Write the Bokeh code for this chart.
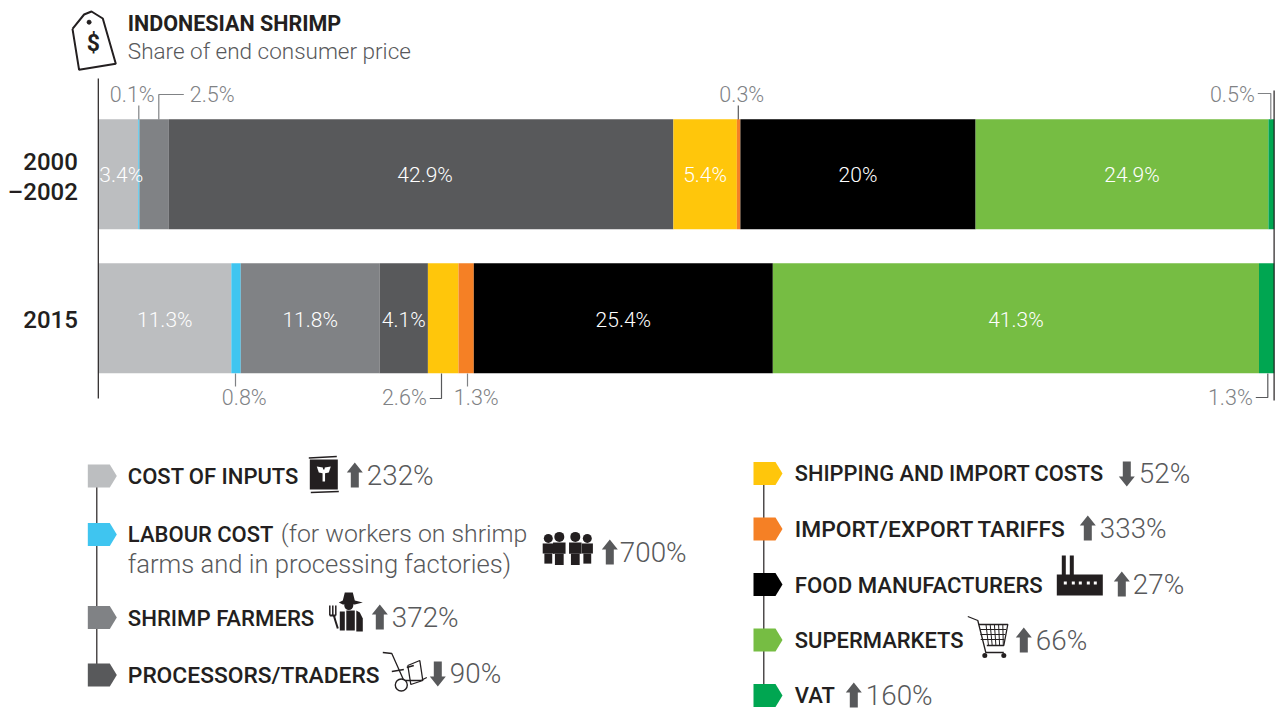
from bokeh.plotting import figure
from bokeh.models import Range1d, ColumnDataSource
from bokeh.core.properties import value
from bokeh.embed import file_html
from bokeh.resources import INLINE
import numpy as np

# ---------- data ----------
years = ["2000\n\u20132002", "2015"]
stages = ["Cost of inputs", "Labour cost", "Shrimp farmers", "Processors/traders",
          "Shipping and import costs", "Import/export tariffs", "Food manufacturers",
          "Supermarkets", "VAT"]
colors = ["#bcbec0", "#3fc5f0", "#808285", "#58595b", "#ffc60b", "#f58025", "#000000", "#76bd43", "#00a651"]
share_2000 = [3.4, 0.1, 2.5, 42.9, 5.4, 0.3, 20, 24.9, 0.5]
share_2015 = [11.3, 0.8, 11.8, 4.1, 2.6, 1.3, 25.4, 41.3, 1.3]
labels_2000 = ["3.4%", "0.1%", "2.5%", "42.9%", "5.4%", "0.3%", "20%", "24.9%", "0.5%"]
labels_2015 = ["11.3%", "0.8%", "11.8%", "4.1%", "2.6%", "1.3%", "25.4%", "41.3%", "1.3%"]
change_names = ["COST OF INPUTS", "LABOUR COST", "SHRIMP FARMERS", "PROCESSORS/TRADERS",
                "SHIPPING AND IMPORT COSTS", "IMPORT/EXPORT TARIFFS", "FOOD MANUFACTURERS",
                "SUPERMARKETS", "VAT"]
change_pct = ["232%", "700%", "372%", "90%", "52%", "333%", "27%", "66%", "160%"]
change_up = [True, True, True, False, False, True, True, True, True]

# ---------- layout (page pixels) ----------
W, H = 1275, 711
X0, X1 = 97.8, 1273.8
PX = (X1 - X0) / 100.0
BAR_Y = [173.7, 317.7]
BAR_H = 110
BOLD = value("Roboto Medium")
LIGHT = value("Roboto Light")
DARK = "#231f20"
GREY = "#808285"
PCT = "#58595b"

p = figure(width=W, height=H, output_backend="svg", toolbar_location=None,
           x_range=Range1d(-X0 / PX, (W - X0) / PX),
           y_range=Range1d(H, 0), min_border=0, outline_line_color=None,
           x_axis_type=None, y_axis_type=None, border_fill_color="white")
p.grid.visible = False
p.extra_x_ranges["px"] = Range1d(0.7, W + 0.7)


def px_line(xs, ys, color=GREY, w=1.2):
    p.line(xs, ys, x_range_name="px", line_color=color, line_width=w)


def px_poly(xs, ys, color):
    p.patch(xs, ys, x_range_name="px", fill_color=color, line_color=None)


def px_text(x, y, s, font, size, color, align="left", base="middle", style="normal"):
    p.text([x], [y], text=[s], x_range_name="px", text_font=font, text_font_size=f"{size}px",
           text_color=color, text_align=align, text_baseline=base, text_font_style=style)


# ---------- stacked bars ----------
offsets_2000 = {0: 3, 3: 4, 7: 10}
offsets_2015 = {}
for yc, ly, vals, labs, show, offs in [
    (BAR_Y[0], 174, share_2000, labels_2000, [0, 3, 4, 6, 7], offsets_2000),
    (BAR_Y[1], 319, share_2015, labels_2015, [0, 2, 3, 6, 7], offsets_2015),
]:
    v = np.array(vals, dtype=float)
    v = v / v.sum() * 100
    right = np.cumsum(v)
    left = right - v
    src = ColumnDataSource(dict(y=[yc] * len(v), left=left, right=right, color=colors))
    p.hbar(y="y", left="left", right="right", height=BAR_H, color="color", line_color=None, source=src)
    xs = [(left[i] + right[i]) / 2 for i in show]
    p.text(xs, [ly] * len(xs), text=[labs[i] for i in show], x_offset=[offs.get(i, 0) for i in show],
           text_font=LIGHT, text_font_size="21px", text_color="white", text_align="center",
           text_baseline="middle")

# axes lines
px_line([98.5, 98.5], [78, 398], "#231f20", 1.2)
px_line([1274.3, 1274.3], [90, 400], "#231f20", 1.2)

# year labels
px_text(78, 161, "2000", BOLD, 24, DARK, "right")
px_text(78, 191, "\u20132002", BOLD, 24, DARK, "right")
px_text(78, 319, years[1], BOLD, 24, DARK, "right")

# callouts
CS = 21.5
px_line([139, 139], [105, 119])
px_text(132.5, 93.5, labels_2000[1], LIGHT, CS, GREY, "center")
px_line([159, 159, 184], [119, 94, 94])
px_text(190, 93.5, labels_2000[2], LIGHT, CS, GREY)
px_line([738.5, 738.5], [105, 119], PCT)
px_text(742, 93.5, labels_2000[5], LIGHT, CS, GREY, "center")
px_line([1258, 1271, 1271], [93, 93, 119])
px_text(1255, 93.5, labels_2000[8], LIGHT, CS, GREY, "right")
px_line([235.7, 235.7], [373, 386])
px_text(244.5, 397, labels_2015[1], LIGHT, CS, GREY, "center")
px_line([441.7, 441.7, 430], [373, 398, 398], PCT)
px_text(427, 397, labels_2015[4], LIGHT, CS, GREY, "right")
px_line([467.7, 467.7], [373, 386])
px_text(476.5, 397, labels_2015[5], LIGHT, CS, GREY, "center")
px_line([1268, 1268, 1256], [373, 397, 397], PCT)
px_text(1253, 397, labels_2015[8], LIGHT, CS, GREY, "right")

# title
px_text(128, 23, "INDONESIAN SHRIMP", value("Roboto"), 21.5, DARK, style="bold")
px_text(128, 50.5, "Share of end consumer price", LIGHT, 22.5, PCT)


# ---------- icons ----------
def tag():
    xs = [72.7, 84.3, 91.7, 103, 116, 79.3, 72.7]
    ys = [28.3, 14, 11, 18, 63.3, 69.3, 28.3]
    px_line(xs, ys, "#231f20", 2)
    p.scatter([89.3], [21.7], x_range_name="px", size=4, color="#231f20")
    px_text(93.5, 43, "$", value("Roboto"), 23, DARK, "center", style="bold")


def bag(ox, oy):
    px_poly([ox + 1, ox + 29, ox + 29, ox + 1], [oy + 3, oy + 3, oy + 33, oy + 33], "#231f20")
    px_line([ox, ox + 28], [oy + 1.5, oy], "#231f20", 1.6)
    px_line([ox + 2, ox + 30], [oy + 36, oy + 35], "#231f20", 1.6)
    px_line([ox + 15, ox + 15], [oy + 13, oy + 25], "white", 2.5)
    px_poly([ox + 8, ox + 14, ox + 15, ox + 10], [oy + 10, oy + 11, oy + 17, oy + 16], "white")
    px_poly([ox + 22, ox + 16, ox + 15, ox + 20], [oy + 10, oy + 11, oy + 17, oy + 16], "white")


def person(cx, top, s):
    p.scatter([cx], [top + 3.5 * s], x_range_name="px", size=8 * s, color="#231f20", line_color=None)
    px_poly([cx - 5 * s, cx + 5 * s, cx + 5 * s, cx + 3 * s, cx - 3 * s, cx - 5 * s],
            [top + 8 * s] * 2 + [top + 17 * s, top + 17 * s, top + 17 * s, top + 17 * s], "#231f20")
    px_poly([cx - 3.5 * s, cx + 3.5 * s, cx + 3.5 * s, cx - 3.5 * s],
            [top + 17 * s, top + 17 * s, top + 26 * s, top + 26 * s], "#231f20")


def people():
    for cx, t in [(548.5, 534), (587.5, 534), (559.5, 532), (575.5, 532)]:
        person(cx, t, 1.25 if t == 532 else 1.12)


def farmer():
    ox, oy = 329, 592
    c = "#231f20"
    px_poly([ox + 14, ox + 16, ox + 24, ox + 26, ox + 34, ox + 26, ox + 14, ox + 10],
            [oy + 8, oy + 0, oy + 0, oy + 8, oy + 10, oy + 12, oy + 12, oy + 10], c)
    p.scatter([ox + 20], [oy + 13], x_range_name="px", size=9, color=c, line_color=None)
    px_poly([ox + 11, ox + 16, ox + 16, ox + 11], [oy + 19, oy + 19, oy + 38, oy + 38], c)
    px_poly([ox + 17.5, ox + 26, ox + 26, ox + 17.5], [oy + 18, oy + 18, oy + 38, oy + 38], c)
    px_poly([ox + 27.5, ox + 31, ox + 34, ox + 34, ox + 27.5], [oy + 18, oy + 20, oy + 26, oy + 39, oy + 39], c)
    for dx in [1, 4, 7]:
        px_line([ox + dx, ox + dx], [oy + 13, oy + 23], c, 1.5)
    px_line([ox + 1, ox + 7], [oy + 23, oy + 23], c, 2)
    px_line([ox + 5, ox + 9], [oy + 23, oy + 36], c, 2)


def dolly():
    c = "#231f20"
    px_line([383, 392, 404, 421, 427], [652, 653, 680, 680, 677], c, 1.3)
    px_line([408, 420, 423, 411, 408], [665, 660, 680, 684, 665], c, 1.3)
    px_line([392, 404], [671, 669], c, 1.3)
    px_line([407, 414], [667, 665], c, 1.8)
    p.circle([401.5], [684.5], radius=6, radius_units="screen", x_range_name="px", fill_color="white", line_color=c, line_width=1.4)


def factory():
    c = "#231f20"
    ox, oy = 1057, 555
    px_poly([ox + 5, ox + 9, ox + 9, ox + 13, ox + 13, ox + 17, ox + 17, ox + 46, ox + 46, ox, ox, ox + 5],
            [oy, oy, oy + 19, oy + 19, oy, oy, oy + 19, oy + 19, oy + 40, oy + 40, oy + 19, oy + 19], c)
    for dx in [7, 15, 22, 30, 37]:
        px_poly([ox + dx, ox + dx + 3, ox + dx + 3, ox + dx], [oy + 26, oy + 26, oy + 29, oy + 29], "white")


def cart():
    c = "#231f20"
    px_line([968, 978, 986, 1004], [616, 620, 652, 652], c, 1.3)
    px_line([979, 1008, 1004, 987], [624, 624, 645, 645], c, 1.3)
    for k in range(1, 4):
        px_line([980 + k * 0.3, 1007 - k * 0.8], [624 + k * 5, 624 + k * 5], c, 1)
    for k in range(1, 6):
        px_line([982 + k * 4.2, 985 + k * 3.7], [624, 645], c, 1)
    p.scatter([985, 1004], [655, 655], x_range_name="px", size=5, color=c, line_color=None)


def arrow(cx, yc, up, color=PCT):
    if up:
        ys = [yc - 13, yc - 3, yc - 3, yc + 12, yc + 12, yc - 3, yc - 3]
    else:
        ys = [yc + 13, yc + 3, yc + 3, yc - 12, yc - 12, yc + 3, yc + 3]
    xs = [cx, cx + 8, cx + 4, cx + 4, cx - 4, cx - 4, cx - 8]
    px_poly(xs, ys, color)


tag()
bag(309, 456)
people()
farmer()
dolly()
factory()
cart()

# ---------- legend ----------
rows_left = [475.5, 534, 617, 674.5]
rows_right = [473, 528.5, 584, 639.5, 695]
px_line([97, 97], [rows_left[0], rows_left[-1]], "#231f20", 1.2)
px_line([764, 764], [rows_right[0], rows_right[-1]], "#231f20", 1.2)


def chip(x, y, color):
    px_poly([x, x + 22, x + 29, x + 22, x], [y - 11.5, y - 11.5, y, y + 11.5, y + 11.5], color)


for i, y in enumerate(rows_left):
    chip(88, y, colors[i])
for i, y in enumerate(rows_right):
    chip(753.7, y, colors[i + 4])

text_x = [128, 128, 128, 128, 795, 795, 795, 795, 795]
text_y = rows_left + rows_right
name_size = [22, 22, 22.2, 22.8, 21.8, 22.8, 22.2, 22, 22]
arrow_x = [355, 610, 380, 438, 1127, 1088, 1122, 1024, 854]
arrow_y = [475, 552, 617, 673, 473, 528, 584, 640, 695]
pct_x = [367, 620, 392, 450, 1139, 1100, 1133, 1036, 866]
for i in range(9):
    px_text(text_x[i], text_y[i], change_names[i], BOLD, name_size[i], DARK)
    arrow(arrow_x[i], arrow_y[i], change_up[i])
    px_text(pct_x[i], arrow_y[i], change_pct[i], LIGHT, 27.8, PCT)

px_text(281, 533, "(for workers on shrimp", LIGHT, 24.8, PCT)
px_text(128, 563, "farms and in processing factories)", LIGHT, 25.6, PCT)

open("out.html", "w").write(file_html(p, INLINE))
